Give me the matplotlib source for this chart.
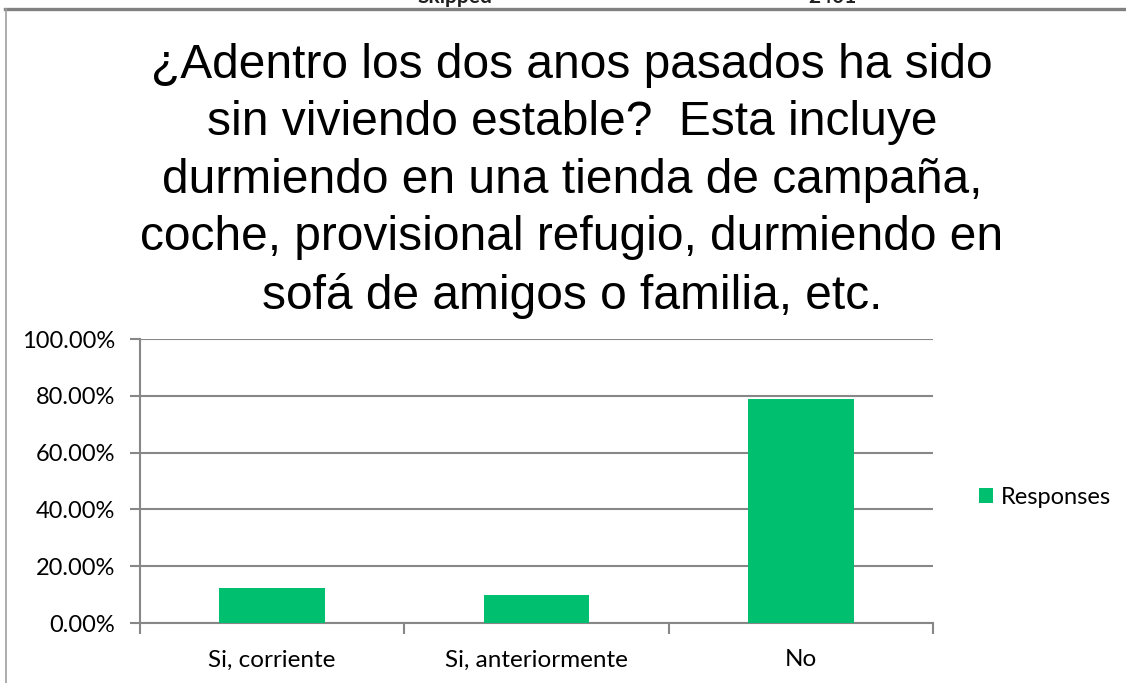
import matplotlib.pyplot as plt
from matplotlib.lines import Line2D
from matplotlib.ticker import FuncFormatter

# data
categories = ['Si, corriente', 'Si, anteriormente', 'No']
responses = [12.5, 9.7, 78.9]
yticks = [0, 20, 40, 60, 80, 100]

W, H = 1126, 683
fig = plt.figure(figsize=(W / 100, H / 100), dpi=100)

grey = '#878787'
green = '#00BF6F'

# frame of the surrounding chart box (cut from a larger page)
fig.add_artist(Line2D([5 / W, 1], [1 - 8.5 / H, 1 - 8.5 / H], color='#808080', lw=2.4))
fig.add_artist(Line2D([6 / W, 6 / W], [0, 1 - 8.5 / H], color='#a0a0a0', lw=1.2))
# clipped header text of the table above (cut off in the source too)
fig.text(455 / W, 1 - 3 / H, 'Skipped', ha='center', va='baseline', fontsize=15,
         fontweight='bold', family='Lato', color='#202020')
fig.text(832 / W, 1 - 3 / H, '2401', ha='center', va='baseline', fontsize=15,
         fontweight='bold', family='Lato', color='#202020')

# title
fig.text(572 / W, 1 - 181 / H,
         '¿Adentro los dos anos pasados ha sido\n'
         'sin viviendo estable?  Esta incluye\n'
         'durmiendo en una tienda de campaña,\n'
         'coche, provisional refugio, durmiendo en\n'
         'sofá de amigos o familia, etc.',
         ha='center', va='center', fontsize=34.5, family='Liberation Sans',
         linespacing=1.36)

ax = fig.add_axes([140 / W, 1 - 623 / H, (933 - 140) / W, (623 - 339) / H])
x = range(len(categories))
ax.bar(x, responses, width=0.4, color=green, zorder=3, label='Responses')

ax.set_xlim(-0.5, 2.5)
ax.set_ylim(0, 100)
ax.set_yticks(yticks)
ax.yaxis.set_major_formatter(FuncFormatter(lambda v, p: f'{v:.2f}%'))
ax.grid(axis='y', color=grey, lw=1.5, zorder=0)
ax.tick_params(axis='y', length=7, width=1.5, color=grey, labelsize=17, pad=11)

ax.set_xticks(list(x))
ax.set_xticklabels(categories)
ax.set_xticks([-0.5, 0.5, 1.5, 2.5], minor=True)
ax.tick_params(axis='x', which='major', length=0, labelsize=17.5, pad=19)
ax.tick_params(axis='x', which='minor', length=8, width=1.5, color=grey)

for lab in ax.get_xticklabels() + ax.get_yticklabels():
    lab.set_family('Lato')

for s in ['top', 'right']:
    ax.spines[s].set_visible(False)
for s in ['left', 'bottom']:
    ax.spines[s].set_color(grey)
    ax.spines[s].set_linewidth(1.5)

ax.legend(loc='center left', bbox_to_anchor=(958 / W, 1 - 497 / H),
          bbox_transform=fig.transFigure, frameon=False,
          prop={'family': 'Lato', 'size': 17}, handlelength=0.6, handleheight=0.6,
          handletextpad=0.3)

fig.savefig('out.png', dpi=100)
